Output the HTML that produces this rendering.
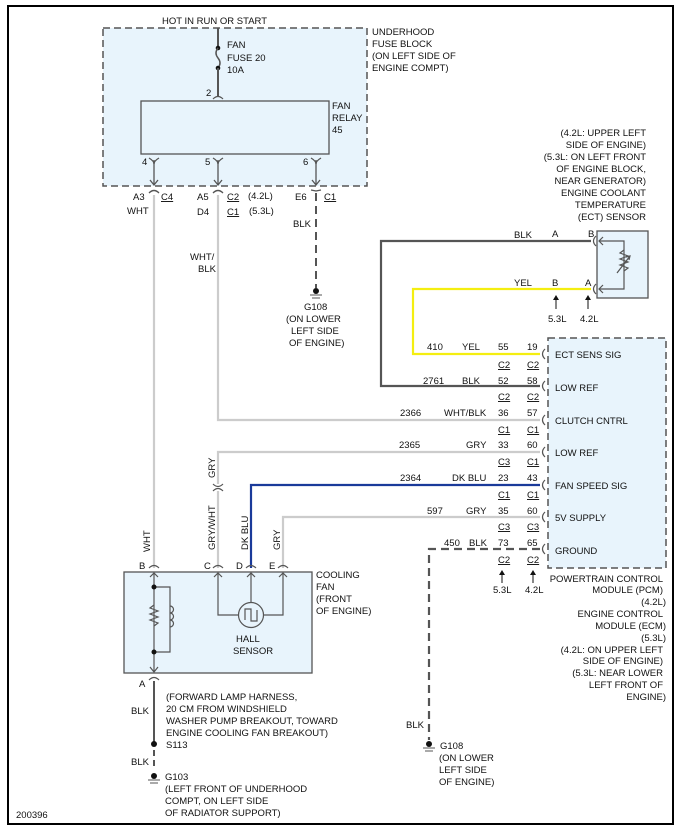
<!DOCTYPE html>
<html><head><meta charset="utf-8"><style>
html,body{margin:0;padding:0;background:#fff;}
svg{display:block;}
text{font-family:"Liberation Sans",Arial,sans-serif;font-size:9.5px;fill:#111;}
.u{text-decoration:underline;}
</style></head><body>
<svg width="684" height="832" viewBox="0 0 684 832" xmlns="http://www.w3.org/2000/svg">
<rect x="8" y="6" width="665" height="818" fill="#fff" stroke="#000" stroke-width="2"/>

<!-- fuse block -->
<rect x="103" y="28" width="264" height="158" fill="#e8f4fc" stroke="#555" stroke-width="1.5" stroke-dasharray="7,4"/>
<text x="162" y="24">HOT IN RUN OR START</text>
<line x1="218" y1="28" x2="218" y2="48" stroke="#555" stroke-width="2"/>
<circle cx="218" cy="48" r="2.3" fill="#111"/>
<path d="M218 48 q-4 5 0 10 q4 5 0 10" fill="none" stroke="#555" stroke-width="1.5"/>
<circle cx="218" cy="68" r="2.3" fill="#111"/>
<line x1="218" y1="68" x2="218" y2="96" stroke="#555" stroke-width="2"/>
<path d="M213 99 q5 -5 10 0" fill="none" stroke="#555" stroke-width="1.2"/>
<text x="227" y="48">FAN</text><text x="227" y="61">FUSE 20</text><text x="227" y="73">10A</text>
<text x="206" y="96">2</text>
<rect x="141" y="101" width="188" height="53" fill="#e8f4fc" stroke="#555" stroke-width="1.3"/>
<text x="332" y="109">FAN</text><text x="332" y="121">RELAY</text><text x="332" y="133">45</text>
<text x="372" y="35">UNDERHOOD</text><text x="372" y="47">FUSE BLOCK</text><text x="372" y="59">(ON LEFT SIDE OF</text><text x="372" y="71">ENGINE COMPT)</text>
<g stroke="#555" stroke-width="1.3" fill="none">
<path d="M149 158 q5 3 5 6 q0-3 5-6"/><line x1="154" y1="160" x2="154" y2="185"/><path d="M150 180 l4 5 l4 -5"/>
<path d="M213 158 q5 3 5 6 q0-3 5-6"/><line x1="218" y1="160" x2="218" y2="185"/><path d="M214 180 l4 5 l4 -5"/>
<path d="M311 158 q5 3 5 6 q0-3 5-6"/><line x1="316" y1="160" x2="316" y2="185"/><path d="M312 180 l4 5 l4 -5"/>
<path d="M149 193 q5 -5 10 0"/><path d="M213 193 q5 -5 10 0"/><path d="M311 190 l5 1 l5 -1"/>
</g>
<text x="142" y="165">4</text><text x="205" y="165">5</text><text x="303" y="165">6</text>
<text x="133" y="200">A3</text><text x="161" y="200" class="u">C4</text>
<text x="127" y="214">WHT</text>
<text x="197" y="200">A5</text><text x="227" y="200" class="u">C2</text><text x="248" y="199">(4.2L)</text>
<text x="197" y="215">D4</text><text x="227" y="215" class="u">C1</text><text x="249" y="214">(5.3L)</text>
<text x="295" y="200">E6</text><text x="324" y="200" class="u">C1</text>
<text x="293" y="227">BLK</text>
<text x="190" y="260">WHT/</text><text x="198" y="272">BLK</text>

<!-- ground G108 top -->
<line x1="316" y1="193" x2="316" y2="288" stroke="#555" stroke-width="2" stroke-dasharray="8,5"/>
<circle cx="316" cy="291" r="3" fill="#111"/>
<line x1="310" y1="295" x2="322" y2="295" stroke="#555" stroke-width="1"/>
<line x1="312" y1="298" x2="320" y2="298" stroke="#555" stroke-width="1"/>
<text x="304" y="310">G108</text><text x="286" y="322">(ON LOWER</text><text x="291" y="334">LEFT SIDE</text><text x="289" y="346">OF ENGINE)</text>

<!-- wires -->
<g fill="none" stroke-width="2.2">
<line x1="154" y1="195" x2="154" y2="568" stroke="#ccc"/>
<polyline points="218,195 218,420 540,420" stroke="#ccc"/>
<polyline points="218,484 218,452 540,452" stroke="#ccc"/>
<line x1="218" y1="491" x2="218" y2="568" stroke="#ccc"/>
<polyline points="251,568 251,485 540,485" stroke="#1a3a9a"/>
<polyline points="283,568 283,517 540,517" stroke="#ccc"/>
<polyline points="591,241 381,241 381,386 540,386" stroke="#555"/>
<polyline points="591,289 413,289 413,354 540,354" stroke="#f4ee10"/>
<polyline points="540,549 429,549 429,740" stroke="#555" stroke-dasharray="8,5"/>
</g>
<g stroke="#555" stroke-width="1.2" fill="none">
<path d="M213 484 q5 5 10 0"/><path d="M213 491 q5 -5 10 0"/>
</g>

<!-- ECT sensor -->
<rect x="597" y="231" width="51" height="67" fill="#e8f4fc" stroke="#555" stroke-width="1.3"/>
<g stroke="#555" stroke-width="1.2" fill="none">
<path d="M596 236 q-5 5 0 10"/><path d="M596 284 q-5 5 0 10"/>
<polyline points="599,241 624,241 624,289 599,289"/>
<path d="M603 237 l-4 4 l4 4 M603 285 l-4 4 l4 4"/>
<path d="M624 250 l-4 3 l8 3 l-8 3 l8 3 l-8 3 l8 3 l-4 3"/>
<path d="M617 273 l13 -17 m-4 1 l4 -1 l-1 4"/>
</g>
<text x="514" y="238">BLK</text><text x="552" y="237">A</text><text x="588" y="237">B</text>
<text x="514" y="286">YEL</text><text x="552" y="286">B</text><text x="585" y="286">A</text>
<g stroke="#111" stroke-width="1"><line x1="556" y1="296" x2="556" y2="309"/><line x1="588" y1="296" x2="588" y2="309"/></g>
<path d="M553 300 l3 -5 l3 5z M585 300 l3 -5 l3 5z" fill="#111"/>
<text x="548" y="322">5.3L</text><text x="580" y="322">4.2L</text>
<g text-anchor="end">
<text x="646" y="136">(4.2L: UPPER LEFT</text><text x="646" y="148">SIDE OF ENGINE)</text>
<text x="646" y="160">(5.3L: ON LEFT FRONT</text><text x="646" y="172">OF ENGINE BLOCK,</text>
<text x="646" y="184">NEAR GENERATOR)</text><text x="646" y="196">ENGINE COOLANT</text>
<text x="646" y="208">TEMPERATURE</text><text x="646" y="220">(ECT) SENSOR</text>
</g>

<!-- PCM -->
<rect x="548" y="338" width="118" height="230" fill="#e8f4fc" stroke="#555" stroke-width="1.5" stroke-dasharray="7,4"/>
<g stroke="#555" stroke-width="1.2" fill="none">
<path d="M545 349 q-5 5 0 10"/><path d="M545 381 q-5 5 0 10"/><path d="M545 415 q-5 5 0 10"/><path d="M545 447 q-5 5 0 10"/><path d="M545 480 q-5 5 0 10"/><path d="M545 512 q-5 5 0 10"/><path d="M545 544 q-5 5 0 10"/>
</g>
<text x="555" y="358">ECT SENS SIG</text><text x="555" y="391">LOW REF</text><text x="555" y="424">CLUTCH CNTRL</text>
<text x="555" y="456">LOW REF</text><text x="555" y="489">FAN SPEED SIG</text><text x="555" y="521">5V SUPPLY</text><text x="555" y="554">GROUND</text>
<text x="427" y="350">410</text><text x="462" y="350">YEL</text><text x="498" y="350">55</text><text x="527" y="350">19</text>
<text x="498" y="368" class="u">C2</text><text x="527" y="368" class="u">C2</text>
<text x="423" y="384">2761</text><text x="462" y="384">BLK</text><text x="498" y="384">52</text><text x="527" y="384">58</text>
<text x="498" y="400" class="u">C2</text><text x="527" y="400" class="u">C2</text>
<text x="400" y="416">2366</text><text x="444" y="416">WHT/BLK</text><text x="498" y="416">36</text><text x="527" y="416">57</text>
<text x="498" y="433" class="u">C1</text><text x="527" y="433" class="u">C1</text>
<text x="399" y="448">2365</text><text x="466" y="448">GRY</text><text x="498" y="448">33</text><text x="527" y="448">60</text>
<text x="498" y="465" class="u">C3</text><text x="527" y="465" class="u">C1</text>
<text x="400" y="481">2364</text><text x="452" y="481">DK BLU</text><text x="498" y="481">23</text><text x="527" y="481">43</text>
<text x="498" y="498" class="u">C1</text><text x="527" y="498" class="u">C1</text>
<text x="427" y="514">597</text><text x="466" y="514">GRY</text><text x="498" y="514">35</text><text x="527" y="514">60</text>
<text x="498" y="530" class="u">C3</text><text x="527" y="530" class="u">C3</text>
<text x="444" y="546">450</text><text x="469" y="546">BLK</text><text x="498" y="546">73</text><text x="527" y="546">65</text>
<text x="498" y="563" class="u">C2</text><text x="527" y="563" class="u">C2</text>
<g stroke="#111" stroke-width="1"><line x1="502" y1="571" x2="502" y2="583"/><line x1="533" y1="571" x2="533" y2="583"/></g>
<path d="M499 575 l3 -5 l3 5z M530 575 l3 -5 l3 5z" fill="#111"/>
<text x="493" y="593">5.3L</text><text x="525" y="593">4.2L</text>
<g text-anchor="end">
<text x="663" y="582">POWERTRAIN CONTROL</text><text x="663" y="593">MODULE (PCM)</text><text x="666" y="605">(4.2L)</text>
<text x="663" y="617">ENGINE CONTROL</text><text x="666" y="629">MODULE (ECM)</text><text x="666" y="641">(5.3L)</text>
<text x="663" y="653">(4.2L: ON UPPER LEFT</text><text x="663" y="664">SIDE OF ENGINE)</text>
<text x="663" y="676">(5.3L: NEAR LOWER</text><text x="663" y="688">LEFT FRONT OF</text><text x="666" y="700">ENGINE)</text>
</g>
<!-- G108 bottom -->
<circle cx="429" cy="744" r="3" fill="#111"/>
<line x1="423" y1="748" x2="435" y2="748" stroke="#555" stroke-width="1"/><line x1="425" y1="751" x2="433" y2="751" stroke="#555" stroke-width="1"/>
<text x="406" y="728">BLK</text>
<text x="440" y="749">G108</text><text x="439" y="761">(ON LOWER</text><text x="439" y="773">LEFT SIDE</text><text x="439" y="785">OF ENGINE)</text>

<!-- cooling fan -->
<text x="146" y="567" transform="rotate(-90 146 567)"> </text>
<text x="0" y="0" transform="translate(150 552) rotate(-90)">WHT</text>
<text x="0" y="0" transform="translate(215 478) rotate(-90)">GRY</text>
<text x="0" y="0" transform="translate(215 550) rotate(-90)">GRY/WHT</text>
<text x="0" y="0" transform="translate(248 550) rotate(-90)">DK BLU</text>
<text x="0" y="0" transform="translate(280 550) rotate(-90)">GRY</text>
<rect x="124" y="572" width="188" height="101" fill="#e8f4fc" stroke="#555" stroke-width="1.3"/>
<g stroke="#555" stroke-width="1.2" fill="none">
<path d="M149 568 q5 -5 10 0"/><path d="M213 568 q5 -5 10 0"/><path d="M246 568 q5 -5 10 0"/><path d="M278 568 q5 -5 10 0"/>
<path d="M150 577 l4 -4 l4 4"/><path d="M214 577 l4 -4 l4 4"/><path d="M247 577 l4 -4 l4 4"/><path d="M279 577 l4 -4 l4 4"/>
<line x1="154" y1="573" x2="154" y2="672"/>
<polyline points="154,587 170,587 170,652 154,652"/>
<path d="M154 605 l-4 3 l8 3 l-8 3 l8 3 l-8 3 l8 3 l-4 3"/>
<path d="M170 606 a3 3 0 0 1 0 7 a3 3 0 0 1 0 7 a3 3 0 0 1 0 7"/>
<polyline points="218,573 218,615 239,615"/><polyline points="283,573 283,615 263,615"/>
<line x1="251" y1="573" x2="251" y2="603"/>
<circle cx="251" cy="615" r="12.5"/>
<polyline points="245,620 245,609 251,609 251,621 257,621 257,610"/>
<path d="M150 667 l4 5 l4 -5"/><path d="M149 680 q5 -5 10 0"/>
</g>
<circle cx="154" cy="587" r="2.5" fill="#111"/><circle cx="154" cy="652" r="2.5" fill="#111"/>
<text x="139" y="569">B</text><text x="204" y="569">C</text><text x="236" y="569">D</text><text x="269" y="569">E</text>
<text x="236" y="642">HALL</text><text x="233" y="654">SENSOR</text>
<text x="316" y="578">COOLING</text><text x="316" y="590">FAN</text><text x="316" y="602">(FRONT</text><text x="316" y="614">OF ENGINE)</text>

<!-- bottom left -->
<line x1="154" y1="681" x2="154" y2="743" stroke="#555" stroke-width="2"/>
<circle cx="154" cy="744" r="3" fill="#111"/>
<line x1="154" y1="750" x2="154" y2="770" stroke="#555" stroke-width="2" stroke-dasharray="6,4"/>
<circle cx="154" cy="776" r="3" fill="#111"/>
<line x1="148" y1="780" x2="160" y2="780" stroke="#555" stroke-width="1"/><line x1="150" y1="783" x2="158" y2="783" stroke="#555" stroke-width="1"/>
<text x="139" y="687">A</text>
<text x="131" y="714">BLK</text><text x="131" y="765">BLK</text>
<text x="166" y="700">(FORWARD LAMP HARNESS,</text><text x="166" y="712">20 CM FROM WINDSHIELD</text>
<text x="166" y="724">WASHER PUMP BREAKOUT, TOWARD</text><text x="166" y="736">ENGINE COOLING FAN BREAKOUT)</text>
<text x="166" y="748">S113</text>
<text x="165" y="780">G103</text><text x="165" y="792">(LEFT FRONT OF UNDERHOOD</text>
<text x="165" y="804">COMPT, ON LEFT SIDE</text><text x="165" y="816">OF RADIATOR SUPPORT)</text>
<text x="16" y="818">200396</text>
</svg>
</body></html>
